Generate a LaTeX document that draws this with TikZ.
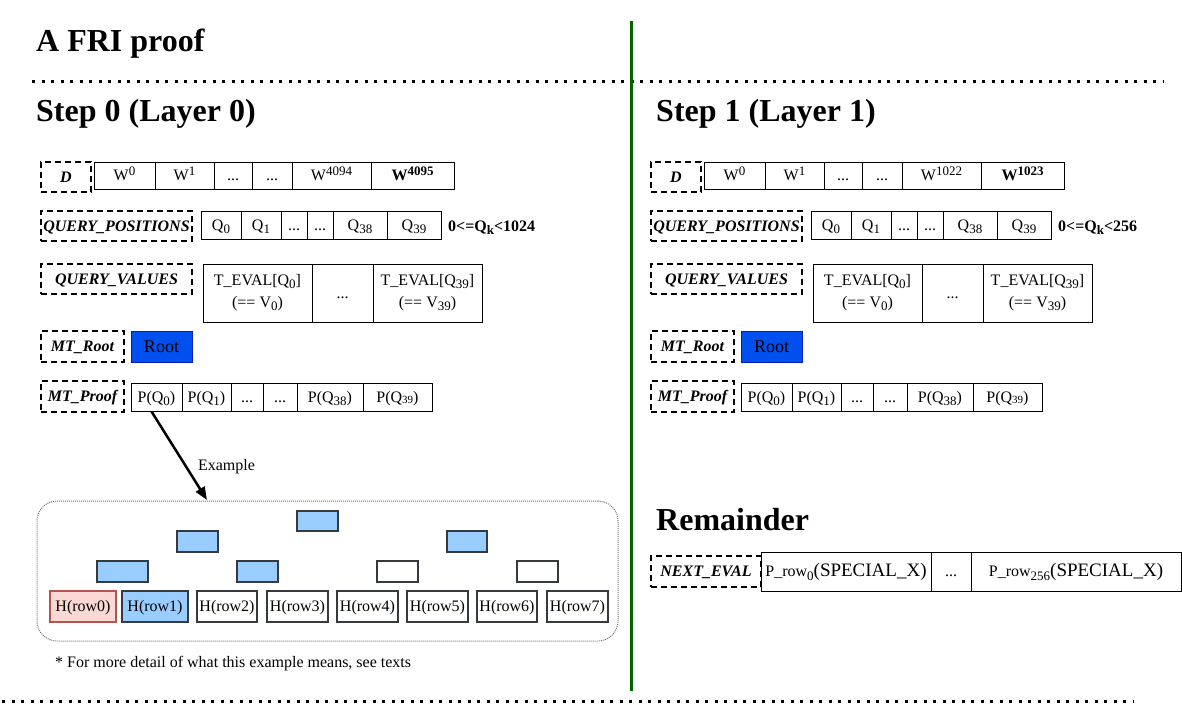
\documentclass[tikz,border=0pt]{standalone}
\usepackage{fontspec}
\setmainfont{Liberation Serif}
\usetikzlibrary{arrows.meta}
\definecolor{treeblue}{HTML}{99CCFF}
\definecolor{rootblue}{HTML}{0050EF}
\definecolor{rootline}{HTML}{001DBC}
\definecolor{pinkfill}{HTML}{FAD9D5}
\definecolor{pinkline}{HTML}{B85450}
\definecolor{darkgreen}{HTML}{006600}
\definecolor{boxline}{HTML}{36393D}
\newcommand\us{\symbol{95}}
\newcommand\fs[2]{\fontsize{#1}{#2}\selectfont}
\newcommand\dstrut{\rule[-0.263em]{0pt}{1.2em}}
\newcommand\mysub[1]{\raisebox{-0.2em}{\fontsize{13}{13}\selectfont #1}}
\newcommand\mysup[1]{\raisebox{0.36em}{\fontsize{13}{13}\selectfont #1}}
\newcommand\boxat[7]{\node[#1, minimum width={#4-#3}, minimum height={#6-#5}] (#2) at ({(#3+#4)/2},{(#5+#6)/2}) {#7};}
\tikzset{
  cell/.style={draw, line width=1, inner sep=0, font=\fs{16}{19}, align=center, execute at begin node=\dstrut},
  lbl/.style={draw, line width=2, dash pattern=on 6pt off 4pt, inner sep=0, font=\fs{16}{19}\bfseries\itshape, execute at begin node=\dstrut},
  tbox/.style={draw=boxline, line width=2, fill=treeblue, inner sep=0},
  leaf/.style={draw=boxline, line width=2.5, inner sep=0, font=\fs{16}{19}, execute at begin node=\dstrut},
  heading/.style={anchor=base west, inner sep=0, font=\fs{32}{38}\bfseries},
  sep/.style={line width=3, dash pattern=on 3pt off 6.5pt},
  plain/.style={inner sep=0, font=\fs{16}{19}},
}
\newcommand\stepblock[7]{%
\node[heading] (#1head) at (#7,121) {#3};
\begin{scope}[xshift=#2]
  \boxat{lbl}{#1Dl}{41}{91}{162}{192}{D}
  \boxat{cell}{#1Da}{94}{155}{162}{189}{W\mysup{0}}
  \boxat{cell}{#1Db}{155}{214}{162}{189}{W\mysup{1}}
  \boxat{cell}{#1Dc}{214}{252}{162}{189}{...}
  \boxat{cell}{#1Dd}{252}{292}{162}{189}{...}
  \boxat{cell}{#1De}{292}{371}{162}{189}{W\mysup{#4}}
  \boxat{cell}{#1Df}{371}{454}{162}{189}{\bfseries W\mysup{#5}}
  \boxat{lbl}{#1Pl}{41}{192}{211}{241}{QUERY\us POSITIONS}
  \boxat{cell}{#1Pa}{201}{241}{211}{239}{Q\mysub{0}}
  \boxat{cell}{#1Pb}{241}{281}{211}{239}{Q\mysub{1}}
  \boxat{cell}{#1Pc}{281}{307}{211}{239}{...}
  \boxat{cell}{#1Pd}{307}{333}{211}{239}{...}
  \boxat{cell}{#1Pe}{333}{387}{211}{239}{Q\mysub{38}}
  \boxat{cell}{#1Pf}{387}{441}{211}{239}{Q\mysub{39}}
  \node[plain, anchor=base west, font=\fs{16}{19}\bfseries] (#1bound) at (448,231) {0<=Q\mysub{k}<#6};
  \boxat{lbl}{#1Vl}{41}{192}{264}{294}{QUERY\us VALUES}
  \boxat{cell, font=\fs{16}{22}}{#1Va}{203}{312}{264}{322}{T\us EVAL[Q\mysub{0}]\\(== V\mysub{0})}
  \boxat{cell}{#1Vb}{312}{373}{264}{322}{...}
  \boxat{cell, font=\fs{16}{22}}{#1Vc}{373}{482}{264}{322}{T\us EVAL[Q\mysub{39}]\\(== V\mysub{39})}
  \boxat{lbl}{#1Rl}{41}{124}{331}{362}{MT\us Root}
  \boxat{cell, fill=rootblue, draw=rootline, font=\fs{18}{21}}{#1Root}{131}{192}{331}{362}{Root}
  \boxat{lbl}{#1Ml}{41}{124}{381}{412}{MT\us Proof}
  \boxat{cell}{#1Ma}{131}{182}{383}{411}{P(Q\mysub{0})}
  \boxat{cell}{#1Mb}{182}{231}{383}{411}{P(Q\mysub{1})}
  \boxat{cell}{#1Mc}{231}{263}{383}{411}{...}
  \boxat{cell}{#1Md}{263}{297}{383}{411}{...}
  \boxat{cell}{#1Me}{297}{363}{383}{411}{P(Q\mysub{38})}
  \boxat{cell}{#1Mf}{363}{432}{383}{411}{P(Q\raisebox{-1pt}{\fs{11}{12}39})}
\end{scope}}
\begin{document}
\begin{tikzpicture}[x=1pt, y=-1pt]
  \useasboundingbox (0,0) rectangle (1182,704);
  % separators
  \coordinate (s1a) at (32,81);  \coordinate (s1b) at (1164,81);
  \coordinate (s2a) at (2,701);  \coordinate (s2b) at (1134,701);
  \draw[sep] (s1a) -- (s1b);
  \draw[sep] (s2a) -- (s2b);
  \coordinate (gtop) at (631,21); \coordinate (gbot) at (631,691);
  \draw[darkgreen, line width=3] (gtop) -- (gbot);
  % title
  \node[heading] (title) at (36,51) {A FRI proof};
  % steps
  \stepblock{L}{0}{Step 0 (Layer 0)}{4094}{4095}{1024}{36}
  \stepblock{R}{610}{Step 1 (Layer 1)}{1022}{1023}{256}{656}
  % example arrow
  \coordinate (extip) at (207,500);
  \draw[line width=2.5, -{Triangle[length=13,width=10]}] ([xshift=-5pt]LMa.south) -- (extip);
  \node[plain] (exlbl) at (226.5,467) {Example};
  % tree container
  \boxat{draw=black!55, line width=1, dash pattern=on 1pt off 1pt, rounded corners=20, inner sep=0}{tree}{37}{618}{501}{641}{}
  \boxat{tbox}{t0}{297}{338}{511}{531}{}
  \boxat{tbox}{t1a}{177}{218}{531}{552}{}
  \boxat{tbox}{t1b}{447}{487}{531}{552}{}
  \boxat{tbox}{t2a}{97}{148}{561}{582}{}
  \boxat{tbox}{t2b}{237}{278}{561}{582}{}
  \boxat{tbox, fill=white}{t2c}{377}{418}{561}{582}{}
  \boxat{tbox, fill=white}{t2d}{517}{558}{561}{582}{}
  \boxat{leaf, fill=pinkfill, draw=pinkline}{h0}{50}{116}{591}{622}{H(row0)}
  \boxat{leaf, fill=treeblue}{h1}{122}{188}{591}{622}{H(row1)}
  \boxat{leaf}{h2}{197}{257}{591}{622}{H(row2)}
  \boxat{leaf}{h3}{267}{328}{591}{622}{H(row3)}
  \boxat{leaf}{h4}{337}{398}{591}{622}{H(row4)}
  \boxat{leaf}{h5}{407}{468}{591}{622}{H(row5)}
  \boxat{leaf}{h6}{477}{537}{591}{622}{H(row6)}
  \boxat{leaf}{h7}{547}{608}{591}{622}{H(row7)}
  \node[plain, anchor=base west] (note) at (55,667) {* For more detail of what this example means, see texts};
  % remainder
  \node[heading] (rem) at (656,530) {Remainder};
  \boxat{lbl}{nel}{651}{761}{556}{587}{NEXT\us EVAL}
  \boxat{cell}{nea}{761}{931}{552}{591}{P\us row\mysub{0}{\fs{19}{22}(SPECIAL\us X)}}
  \boxat{cell}{neb}{931}{971}{552}{591}{...}
  \boxat{cell}{nec}{971}{1181}{552}{591}{P\us row\mysub{256}{\fs{19}{22}(SPECIAL\us X)}}
\end{tikzpicture}
\end{document}
